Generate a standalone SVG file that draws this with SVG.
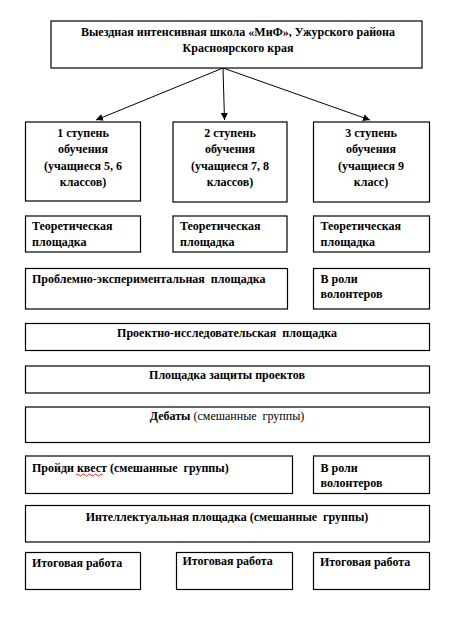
<svg xmlns="http://www.w3.org/2000/svg" width="459" height="621" viewBox="0 0 459 621">
<defs>
<style>
.b{fill:#fff;stroke:#000;stroke-width:1.2}
text{font-family:'Liberation Serif','Times New Roman',serif;font-size:12px;font-weight:bold;fill:#000;white-space:pre}
.c{text-anchor:middle}
.n{font-weight:normal}
.e{fill:none;stroke:#000;stroke-width:1}
</style>
<marker id="ah" viewBox="0 0 10 10" refX="10" refY="5" markerWidth="7" markerHeight="7" orient="auto" markerUnits="userSpaceOnUse"><path d="M0,0 L10,5 L0,10 z" fill="#000"/></marker>
</defs>
<rect width="459" height="621" fill="#fff"/>
<g id="edges">
<line class="e" x1="223" y1="68" x2="96" y2="120" marker-end="url(#ah)"/>
<line class="e" x1="223" y1="68" x2="224.5" y2="120" marker-end="url(#ah)"/>
<line class="e" x1="223" y1="68" x2="370" y2="120" marker-end="url(#ah)"/>
</g>
<g id="top"><rect class="b" x="51" y="21" width="371" height="47"/>
<text class="c" x="238" y="36">Выездная интенсивная школа «МиФ», Ужурского района</text>
<text class="c" x="238" y="52">Красноярского края</text></g>
<g id="s1"><rect class="b" x="25.5" y="122" width="115" height="79"/>
<text class="c" x="83" y="137">1 ступень</text><text class="c" x="83" y="153">обучения</text><text class="c" x="83" y="170">(учащиеся 5, 6</text><text class="c" x="83" y="186">классов)</text></g>
<g id="s2"><rect class="b" x="173" y="122" width="114" height="80"/>
<text class="c" x="230" y="137">2 ступень</text><text class="c" x="230" y="153">обучения</text><text class="c" x="230" y="170">(учащиеся 7, 8</text><text class="c" x="230" y="186">классов)</text></g>
<g id="s3"><rect class="b" x="313.5" y="122" width="116" height="80"/>
<text class="c" x="371" y="137">3 ступень</text><text class="c" x="371" y="153">обучения</text><text class="c" x="371" y="170">(учащиеся 9</text><text class="c" x="371" y="186">класс)</text></g>
<g id="t1"><rect class="b" x="25.5" y="216" width="115" height="36"/>
<text x="32" y="230">Теоретическая</text><text x="32" y="245.5">площадка</text></g>
<g id="t2"><rect class="b" x="173" y="216" width="114" height="36"/>
<text x="180" y="230">Теоретическая</text><text x="180" y="245.5">площадка</text></g>
<g id="t3"><rect class="b" x="313.5" y="216" width="116" height="36"/>
<text x="320.5" y="230">Теоретическая</text><text x="320.5" y="245.5">площадка</text></g>
<g id="prob"><rect class="b" x="25.5" y="268.5" width="262" height="40.5"/>
<text x="32" y="283" xml:space="preserve">Проблемно-экспериментальная  площадка</text></g>
<g id="vol1"><rect class="b" x="313.5" y="268.5" width="116" height="40.5"/>
<text x="320.5" y="283">В роли</text><text x="320.5" y="297.5">волонтеров</text></g>
<g id="proj"><rect class="b" x="25.5" y="323.5" width="404" height="27"/>
<text class="c" x="227" y="337" xml:space="preserve">Проектно-исследовательская  площадка</text></g>
<g id="def"><rect class="b" x="25.5" y="366" width="404" height="27"/>
<text class="c" x="227" y="378.5">Площадка защиты проектов</text></g>
<g id="deb"><rect class="b" x="25.5" y="407" width="404" height="35.5"/>
<text class="c" x="227" y="420" xml:space="preserve">Дебаты <tspan class="n">(смешанные  группы)</tspan></text></g>
<g id="quest"><rect class="b" x="25.5" y="456" width="267" height="37.5"/>
<text x="32" y="471.5" xml:space="preserve">Пройди квест (смешанные  группы)</text>
<path d="M76,475 q1.5,-2 3,0 t3,0 t3,0 t3,0 t3,0 t3,0 t3,0 t3,0 t3,0" fill="none" stroke="#d00" stroke-width="0.8"/></g>
<g id="vol2"><rect class="b" x="313.5" y="456" width="116" height="37.5"/>
<text x="320.5" y="471.5">В роли</text><text x="320.5" y="486.5">волонтеров</text></g>
<g id="intel"><rect class="b" x="25.5" y="505.5" width="404" height="36.5"/>
<text class="c" x="227" y="520.5" xml:space="preserve">Интеллектуальная площадка (смешанные  группы)</text></g>
<g id="f1"><rect class="b" x="25.5" y="552.5" width="115" height="37"/>
<text x="32" y="566.5">Итоговая работа</text></g>
<g id="f2"><rect class="b" x="176.5" y="552.5" width="116" height="37"/>
<text x="182.5" y="565">Итоговая работа</text></g>
<g id="f3"><rect class="b" x="313.5" y="552.5" width="116" height="37"/>
<text x="320" y="566">Итоговая работа</text></g>
</svg>
